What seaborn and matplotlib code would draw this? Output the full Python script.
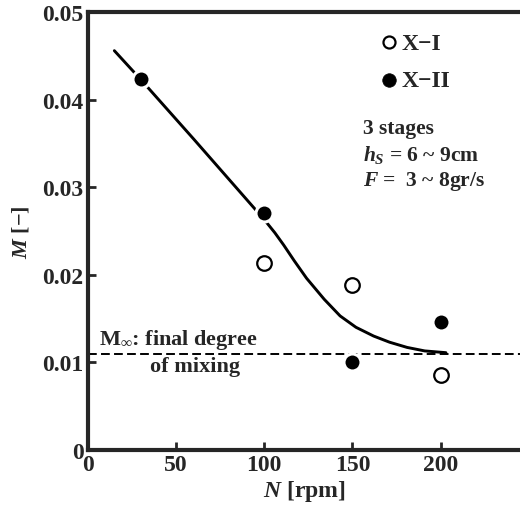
import numpy as np
import pandas as pd
import matplotlib
matplotlib.use("Agg")
import matplotlib.pyplot as plt
import seaborn as sns

# measured points
n_open = [100, 150, 200]           # X-I
m_open = [0.0213, 0.0188, 0.0085]
n_fill = [30, 100, 150, 200]       # X-II
m_fill = [0.0424, 0.0271, 0.0100, 0.0146]

# hand drawn trend curve
n_curve = [15, 30, 60, 90, 100, 106, 111, 117, 124, 134, 143, 152, 162, 171, 181, 191, 203]
m_curve = [0.0456, 0.0423, 0.0355, 0.0286, 0.0263, 0.0248, 0.0234, 0.0216, 0.0196,
           0.0172, 0.0153, 0.0140, 0.0130, 0.0123, 0.0117, 0.0113, 0.0111]

m_final = 0.011
x_ticks = [0, 50, 100, 150, 200]
y_ticks = [0, 0.01, 0.02, 0.03, 0.04, 0.05]
y_tick_labels = ["0", "0.01", "0.02", "0.03", "0.04", "0.05"]

sns.set_style("ticks")
plt.rcParams["font.family"] = ["Liberation Serif", "DejaVu Serif"]
plt.rcParams["font.weight"] = "bold"
plt.rcParams["axes.labelweight"] = "bold"
plt.rcParams["mathtext.fontset"] = "custom"
plt.rcParams["mathtext.rm"] = "Liberation Serif:bold"
plt.rcParams["mathtext.it"] = "Liberation Serif:italic:bold"
plt.rcParams["mathtext.bf"] = "Liberation Serif:bold"

fig = plt.figure(figsize=(5.2, 5.06), dpi=100)
ax = fig.add_axes([0.169, 0.109, 0.831, 0.865])

curve = pd.DataFrame({"N": n_curve, "M": m_curve})
sns.lineplot(data=curve, x="N", y="M", ax=ax, color="black", lw=2.1, zorder=2)

ax.axhline(m_final, color="black", lw=1.4, ls=(0, (4.5, 2.2)), zorder=1)

sns.scatterplot(x=n_open, y=m_open, ax=ax, marker="o", s=110, facecolor="white",
                edgecolor="black", linewidth=1.6, zorder=3, label="X\u2212I")
sns.scatterplot(x=n_fill, y=m_fill, ax=ax, marker="o", s=150, color="black",
                edgecolor="white", linewidth=2.2, zorder=3, label="X\u2212II")

leg = ax.legend(frameon=False, loc="upper left", bbox_to_anchor=(0.645, 0.976),
                borderaxespad=0, handletextpad=0.0, handlelength=1.1,
                labelspacing=0.68, fontsize=17)
# legend circles: open one a bit smaller, filled one without white ring
leg.legend_handles[0].set_sizes([75])
leg.legend_handles[1].set_sizes([95])
leg.legend_handles[1].set_edgecolor("black")
leg.legend_handles[1].set_linewidth(0.5)

ax.text(156, 0.0368, "3 stages", fontsize=15.5, va="center", ha="left")
ax.text(156, 0.0338, "$h_S$ = 6 ~ 9cm", fontsize=15.5, va="center", ha="left")
ax.text(156, 0.0308, "$F$ =  3 ~ 8gr/s", fontsize=15.5, va="center", ha="left")

ax.text(6.5, 0.0127, "M$_\\infty$: final degree", fontsize=16, va="center", ha="left")
ax.text(61, 0.0096, "of mixing", fontsize=16, va="center", ha="center")

ax.set_xlim(0, 245)
ax.set_ylim(0, 0.05)
ax.set_xticks(x_ticks)
ax.set_xticklabels([str(t) for t in x_ticks])
ax.set_yticks(y_ticks)
ax.set_yticklabels(y_tick_labels)
ax.tick_params(direction="in", length=6, width=2, labelsize=17, pad=3)

for side in ["left", "bottom", "top"]:
    ax.spines[side].set_linewidth(3)
ax.spines["right"].set_visible(False)

ax.set_xlabel("$N$ [rpm]", fontsize=17, labelpad=2)
ax.set_ylabel("$M$ [\u2212]", fontsize=16, labelpad=8)

fig.savefig("out.png", dpi=100)
